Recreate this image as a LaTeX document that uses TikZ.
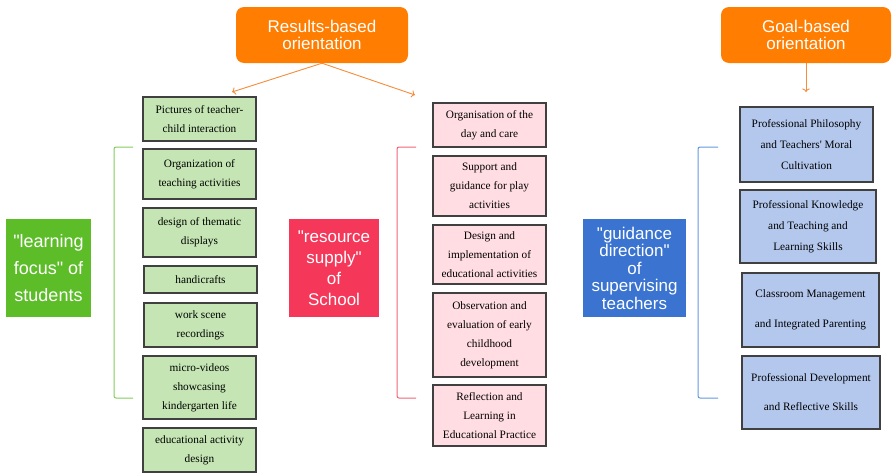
\documentclass[tikz,border=0pt]{standalone}
\usepackage{fontspec}
\setmainfont{Liberation Serif}
\setsansfont{Liberation Sans}
\usetikzlibrary{arrows.meta}

\definecolor{headorange}{RGB}{255,125,0}
\definecolor{arroworange}{RGB}{245,140,60}
\definecolor{learngreen}{RGB}{92,189,41}
\definecolor{greenfill}{RGB}{197,230,180}
\definecolor{greenline}{RGB}{130,205,90}
\definecolor{rescrimson}{RGB}{245,55,90}
\definecolor{pinkfill}{RGB}{255,221,226}
\definecolor{pinkline}{RGB}{240,100,120}
\definecolor{guideblue}{RGB}{58,116,208}
\definecolor{bluefill}{RGB}{180,200,238}
\definecolor{blueline}{RGB}{100,150,225}
\definecolor{boxedge}{RGB}{64,64,64}

\begin{document}
\begin{tikzpicture}[x=1pt, y=-1pt,
  headbox/.style={fill=headorange, rounded corners=8pt, text=white, align=center,
    font=\sffamily\fontsize{17}{17}\selectfont, minimum width=172, minimum height=56, inner sep=0pt},
  sidelabel/.style={text=white, align=center, minimum height=98, inner sep=0pt},
  itembox/.style={draw=boxedge, line width=1.2pt, align=center, inner sep=2pt,
    font=\fontsize{11.3}{19}\selectfont},
  greenbox/.style={itembox, fill=greenfill, minimum width=113},
  pinkbox/.style={itembox, fill=pinkfill, minimum width=113},
  bluebox/.style={itembox, fill=bluefill, font=\fontsize{11.3}{21}\selectfont},
  orient/.style={->, arroworange, line width=0.9pt},
  bracket/.style={line width=1pt, rounded corners=2pt}]
\useasboundingbox (0,0) rectangle (892,474);

% orientation headers
\node[headbox] (res) at (322,35) {Results-based\\orientation};
\node[headbox, minimum width=170] (goal) at (806,35) {Goal-based\\orientation};
\coordinate (resL) at (232,92);
\coordinate (resR) at (415,95);
\coordinate (goalE) at (806,92);
\draw[orient] (res.south) -- (resL);
\draw[orient] (res.south) -- (resR);
\draw[orient] (goal.south) -- (goalE);

% side labels
\node[sidelabel, fill=learngreen, minimum width=85, font=\sffamily\fontsize{18}{27}\selectfont]
  (learn) at (48.5,268) {\textquotedbl learning\\focus\textquotedbl{} of\\students};
\node[sidelabel, fill=rescrimson, minimum width=90, font=\sffamily\fontsize{17}{21}\selectfont]
  (supply) at (334,268) {\textquotedbl resource\\supply\textquotedbl\\of\\School};
\node[sidelabel, fill=guideblue, minimum width=103, font=\sffamily\fontsize{17}{17.5}\selectfont]
  (guide) at (634.5,268) {\textquotedbl guidance\\direction\textquotedbl\\of\\supervising\\teachers};

% brackets
\draw[bracket, greenline] (133,147) -- (114,147) -- (114,398) -- (133,398);
\draw[bracket, pinkline] (416,147) -- (397,147) -- (397,398) -- (416,398);
\draw[bracket, blueline] (718,147) -- (698,147) -- (698,398) -- (718,398);

% learning focus items
\node[greenbox, minimum height=44] (g1) at (199.5,119) {Pictures of teacher-\\child interaction};
\node[greenbox, minimum height=50] (g2) at (199.5,174) {Organization of\\teaching activities};
\node[greenbox, minimum height=49] (g3) at (199.5,232.5) {design of thematic\\displays};
\node[greenbox, minimum height=27] (g4) at (200.5,279.5) {handicrafts};
\node[greenbox, minimum height=44] (g5) at (200.5,325) {work scene\\recordings};
\node[greenbox, minimum height=63] (g6) at (199.5,387.5) {micro-videos\\showcasing\\kindergarten life};
\node[greenbox, minimum height=44] (g7) at (199.5,450) {educational activity\\design};

% resource supply items
\node[pinkbox, minimum height=44] (p1) at (489.5,125) {Organisation of the\\day and care};
\node[pinkbox, minimum height=60] (p2) at (489.5,186) {Support and\\guidance for play\\activities};
\node[pinkbox, minimum height=59] (p3) at (489.5,254.5) {Design and\\implementation of\\educational activities};
\node[pinkbox, minimum height=84] (p4) at (489.5,335) {Observation and\\evaluation of early\\childhood\\development};
\node[pinkbox, minimum height=61] (p5) at (489.5,415.5) {Reflection and\\Learning in\\Educational Practice};

% guidance direction items
\node[bluebox, minimum width=133, minimum height=75] (b1) at (806.5,144.5) {Professional Philosophy\\and Teachers\textquotesingle{} Moral\\Cultivation};
\node[bluebox, minimum width=136, minimum height=73] (b2) at (808,226.5) {Professional Knowledge\\and Teaching and\\Learning Skills};
\node[bluebox, minimum width=137, minimum height=74, font=\fontsize{11.3}{30}\selectfont] (b3) at (810.5,310) {Classroom Management\\and Integrated Parenting};
\node[bluebox, minimum width=138, minimum height=73, font=\fontsize{11.3}{29}\selectfont] (b4) at (811,392.5) {Professional Development\\and Reflective Skills};
\end{tikzpicture}
\end{document}
